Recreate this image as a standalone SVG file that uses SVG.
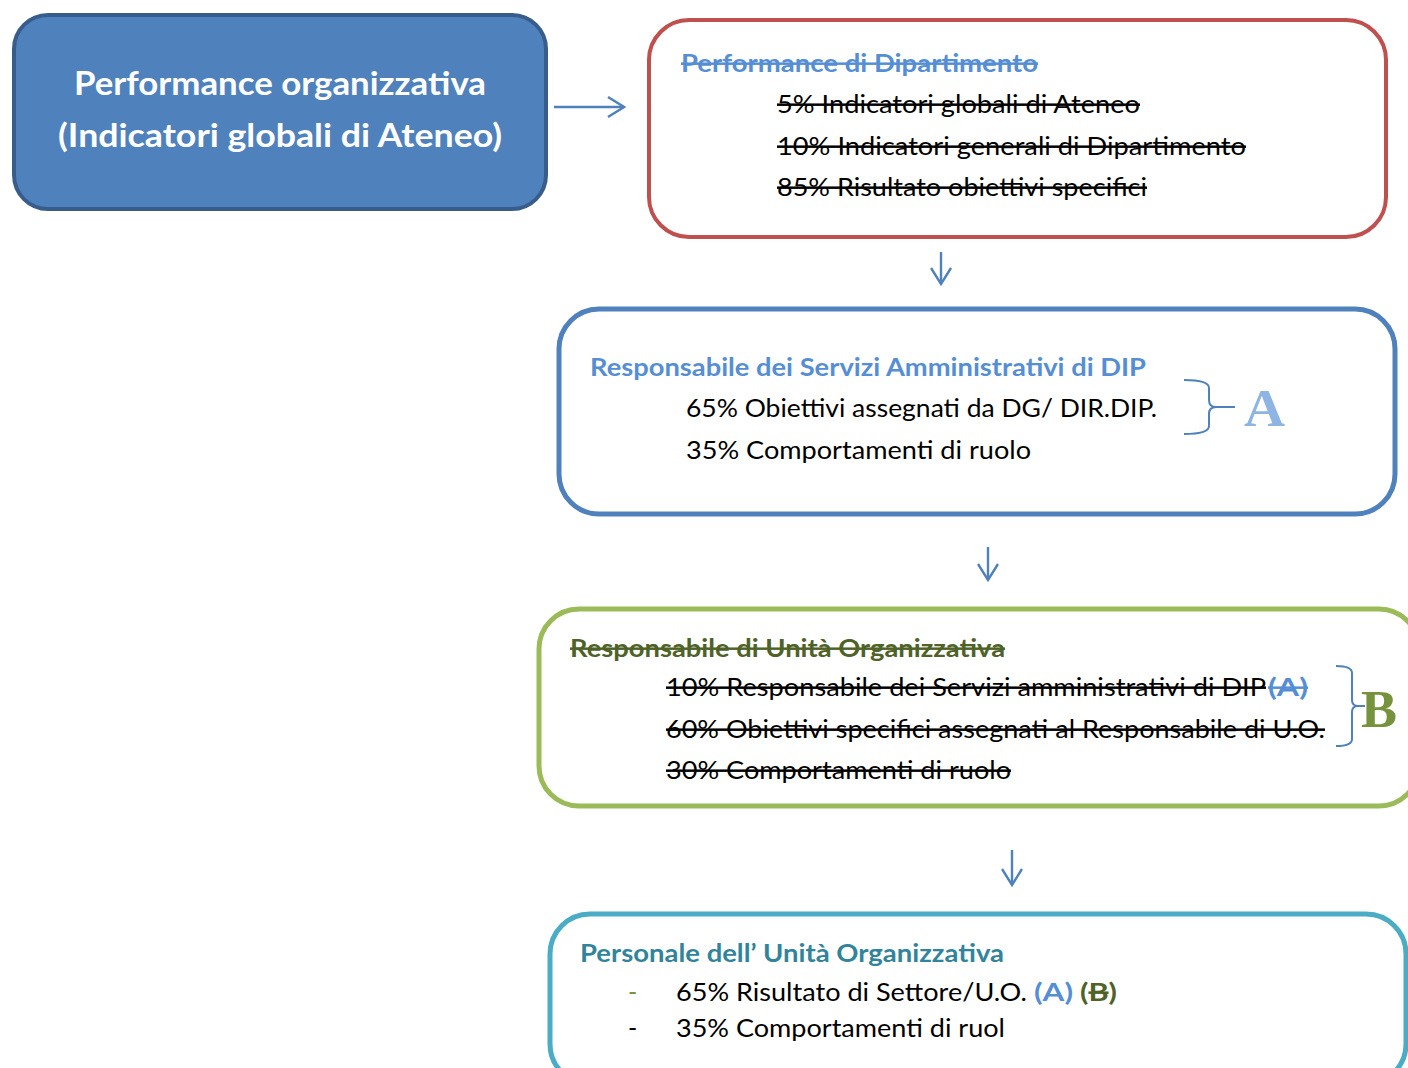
<svg xmlns="http://www.w3.org/2000/svg" width="1408" height="1068" viewBox="0 0 1408 1068">
<defs>
<marker id="ah" viewBox="0 0 20 22" refX="18" refY="11" markerWidth="20" markerHeight="22" markerUnits="userSpaceOnUse" orient="auto">
<path d="M2,1 L18,11 L2,21" fill="none" stroke="#4F81BD" stroke-width="2.4"/>
</marker>
<style>
text{font-family:Lato,"Liberation Sans",sans-serif;font-size:25px;}
.b{font-weight:bold;}
.s{text-decoration:line-through;}
.k{fill:#000;}
.conn{stroke:#4F81BD;stroke-width:2.4;fill:none;}
.brace{stroke:#4F81BD;stroke-width:2;fill:none;}
.serif{font-family:"Liberation Serif",serif;font-weight:bold;font-size:52px;}
</style>
</defs>
<rect width="1408" height="1068" fill="#fff"/>

<g id="connectors">
<line class="conn" x1="554" y1="107" x2="624" y2="107" marker-end="url(#ah)"/>
<line class="conn" x1="941" y1="252" x2="941" y2="284" marker-end="url(#ah)"/>
<line class="conn" x1="988" y1="547" x2="988" y2="580" marker-end="url(#ah)"/>
<line class="conn" x1="1012" y1="850" x2="1012" y2="885" marker-end="url(#ah)"/>
</g>

<g id="node-performance-organizzativa">
<rect x="14" y="15" width="532" height="194" rx="34" fill="#4F81BD" stroke="#385D8A" stroke-width="4"/>
<text x="280" y="95" text-anchor="middle" class="b" style="font-size:33px" fill="#fff" textLength="412" lengthAdjust="spacingAndGlyphs">Performance organizzativa</text>
<text x="280" y="147" text-anchor="middle" class="b" style="font-size:33px" fill="#fff" textLength="444" lengthAdjust="spacingAndGlyphs">(Indicatori globali di Ateneo)</text>
</g>

<g id="node-performance-dipartimento">
<rect x="649" y="20" width="737" height="217" rx="40" fill="#fff" stroke="#C0504D" stroke-width="4"/>
<text x="681" y="72" class="b s" fill="#558ED5" textLength="357" lengthAdjust="spacingAndGlyphs">Performance di Dipartimento</text>
<text x="777" y="113" class="s k" textLength="363" lengthAdjust="spacingAndGlyphs">5% Indicatori globali di Ateneo</text>
<text x="777" y="155" class="s k" textLength="469" lengthAdjust="spacingAndGlyphs">10% Indicatori generali di Dipartimento</text>
<text x="777" y="196" class="s k" textLength="370" lengthAdjust="spacingAndGlyphs">85% Risultato obiettivi specifici</text>
</g>

<g id="node-responsabile-servizi">
<rect x="559" y="309" width="836" height="205" rx="40" fill="#fff" stroke="#4F81BD" stroke-width="5"/>
<text x="590" y="376" class="b" fill="#558ED5" textLength="556" lengthAdjust="spacingAndGlyphs">Responsabile dei Servizi Amministrativi di DIP</text>
<text x="686" y="417" class="k" textLength="471" lengthAdjust="spacingAndGlyphs">65% Obiettivi assegnati da DG/ DIR.DIP.</text>
<text x="686" y="459" class="k" textLength="345" lengthAdjust="spacingAndGlyphs">35% Comportamenti di ruolo</text>
<path class="brace" d="M1184,380 Q1209,380 1209,388 L1209,400 Q1209,407 1216,407 L1235,407 M1216,407 Q1209,407 1209,414 L1209,426 Q1209,434 1184,434"/>
<text x="1244" y="426" class="serif" fill="#8EB4E3" textLength="41" lengthAdjust="spacingAndGlyphs">A</text>
</g>

<g id="node-responsabile-uo">
<rect x="539" y="609" width="880" height="197" rx="40" fill="#fff" stroke="#9BBB59" stroke-width="5"/>
<text x="570" y="657" class="b s" fill="#4F6228" textLength="435" lengthAdjust="spacingAndGlyphs">Responsabile di Unità Organizzativa</text>
<text x="666" y="696" class="s k" textLength="600" lengthAdjust="spacingAndGlyphs">10% Responsabile dei Servizi amministrativi di DIP</text>
<text x="1268" y="696" class="b s" fill="#558ED5" textLength="40" lengthAdjust="spacingAndGlyphs">(A)</text>
<text x="666" y="738" class="s k" textLength="659" lengthAdjust="spacingAndGlyphs">60% Obiettivi specifici assegnati al Responsabile di U.O.</text>
<text x="666" y="779" class="s k" textLength="345" lengthAdjust="spacingAndGlyphs">30% Comportamenti di ruolo</text>
<path class="brace" d="M1336,666 Q1352,666 1352,673 L1352,700 Q1352,706 1358,706 L1365,706 M1358,706 Q1352,706 1352,712 L1352,739 Q1352,746 1336,746"/>
<text x="1361" y="727" class="serif" fill="#76923C" textLength="36" lengthAdjust="spacingAndGlyphs">B</text>
</g>

<g id="node-personale-uo">
<rect x="550" y="914" width="856" height="170" rx="40" fill="#fff" stroke="#4BACC6" stroke-width="5"/>
<text x="580" y="962" class="b" fill="#31849B" textLength="424" lengthAdjust="spacingAndGlyphs">Personale dell’ Unità Organizzativa</text>
<text x="628" y="1001" fill="#76923C">-</text>
<text x="676" y="1001" class="k" textLength="351" lengthAdjust="spacingAndGlyphs">65% Risultato di Settore/U.O.</text>
<text x="1034" y="1001" class="b" fill="#558ED5" textLength="39" lengthAdjust="spacingAndGlyphs">(A)</text>
<text x="1080" y="1001" class="b" fill="#4F6228" textLength="37" lengthAdjust="spacingAndGlyphs">(<tspan style="text-decoration:line-through">B</tspan>)</text>
<text x="628" y="1037" class="k">-</text>
<text x="676" y="1037" class="k" textLength="329" lengthAdjust="spacingAndGlyphs">35% Comportamenti di ruol</text>
</g>
</svg>
